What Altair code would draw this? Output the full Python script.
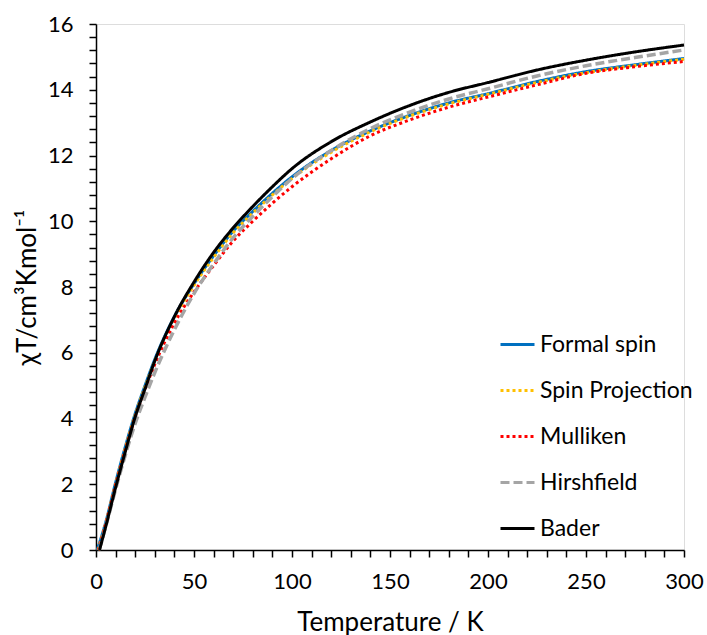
import altair as alt
import pandas as pd

# ---- data ----
series_names = ["Formal spin", "Spin Projection", "Mulliken", "Hirshfield", "Bader"]
series_colors = ["#0070C0", "#FFC000", "#FF0000", "#A5A5A5", "#000000"]
series_dash = [[1, 0], [3, 3], [3, 3], [9, 4], [1, 0]]
series_width = [3, 3, 3, 3.5, 3]
start_T = [0.6, 1.0, 1.2, 1.6, 1.8]

temps = [5, 10, 15, 20, 25, 30, 40, 50, 60, 70, 80, 90, 100,
         120, 140, 160, 180, 200, 225, 250, 275, 300]

formal_spin = [0.85, 2.05, 3.15, 4.15, 5.0, 5.8, 7.1, 8.1, 8.95, 9.7, 10.3, 10.85, 11.35,
               12.15, 12.75, 13.22, 13.6, 13.88, 14.25, 14.55, 14.76, 14.95]
spin_projection = [0.82, 2.0, 3.1, 4.1, 4.95, 5.75, 7.05, 8.05, 8.9, 9.65, 10.25, 10.8, 11.3,
                   12.1, 12.72, 13.2, 13.57, 13.86, 14.22, 14.52, 14.74, 14.93]
mulliken = [0.8, 1.97, 3.05, 4.05, 4.88, 5.65, 6.9, 7.85, 8.65, 9.4, 10.0, 10.55, 11.05,
            11.9, 12.6, 13.08, 13.47, 13.78, 14.15, 14.5, 14.7, 14.86]
hirshfield = [0.72, 1.85, 2.9, 3.85, 4.65, 5.4, 6.7, 7.8, 8.7, 9.5, 10.15, 10.75, 11.3,
              12.15, 12.82, 13.32, 13.72, 14.03, 14.42, 14.73, 14.98, 15.21]
bader = [0.72, 1.9, 3.0, 4.05, 4.9, 5.75, 7.1, 8.15, 9.05, 9.8, 10.45, 11.05, 11.6,
         12.42, 13.02, 13.52, 13.92, 14.22, 14.6, 14.9, 15.15, 15.36]

all_values = [formal_spin, spin_projection, mulliken, hirshfield, bader]

rows = []
for name, t0, vals in zip(series_names, start_T, all_values):
    rows.append({"series": name, "T": t0, "chi": 0.0})
    for t, v in zip(temps, vals):
        rows.append({"series": name, "T": t, "chi": v})
df = pd.DataFrame(rows)

y_ticks = [round(i * 0.4, 1) for i in range(41)]
x_ticks = list(range(0, 301, 10))

FONT = "Lato"

x_axis = alt.Axis(
    values=x_ticks, format=".0f", labelExpr="datum.value % 50 === 0 ? datum.label : ''",
    grid=False, domainColor="black", domainWidth=1.5, tickColor="black", tickWidth=1.5,
    tickSize=7, labelFont=FONT, labelFontSize=22, labelColor="black", labelPadding=14,
    labelOverlap=False, labelFlush=False, title="Temperature / K", titleFont=FONT,
    titleFontSize=26, titleFontWeight="normal", titleColor="black", titlePadding=17,
)
y_axis = alt.Axis(
    values=y_ticks, format=".0f", labelExpr="datum.value % 2 === 0 ? datum.label : ''",
    grid=False, domainColor="black", domainWidth=1.5, tickColor="black", tickWidth=1.5,
    tickSize=7, labelFont=FONT, labelFontSize=22, labelColor="black", labelPadding=16,
    labelOverlap=False, labelFlush=False, title="χT/cm³Kmol⁻¹", titleFont=FONT,
    titleFontSize=26, titleFontWeight="normal", titleColor="black", titlePadding=7,
)

legend = alt.Legend(
    title=None, orient="none", legendX=403, legendY=302, symbolType="stroke",
    symbolSize=1156, symbolStrokeWidth=3, labelFont=FONT, labelFontSize=23,
    labelColor="black", rowPadding=15, labelOffset=4, padding=0,
)

enc = dict(
    x=alt.X("T:Q", scale=alt.Scale(domain=[0, 300], nice=False, zero=True), axis=x_axis),
    y=alt.Y("chi:Q", scale=alt.Scale(domain=[0, 16], nice=False), axis=y_axis),
    color=alt.Color("series:N", scale=alt.Scale(domain=series_names, range=series_colors),
                    legend=legend),
    strokeDash=alt.StrokeDash("series:N", scale=alt.Scale(domain=series_names, range=series_dash),
                              legend=legend),
)

layers = []
for name, w in zip(series_names, series_width):
    layers.append(
        alt.Chart(df)
        .transform_filter(alt.datum.series == name)
        .mark_line(strokeWidth=w, interpolate="monotone", strokeCap="butt")
        .encode(**enc)
    )

chart = (
    alt.layer(*layers)
    .properties(
        width=588, height=526,
        autosize=alt.AutoSizeParams(type="none"),
        padding={"left": 96, "top": 24, "right": 23, "bottom": 85},
    )
    .configure_view(strokeWidth=0)
    .configure(background="white")
)

chart.save("out.html", embed_options={"renderer": "svg", "actions": False})
